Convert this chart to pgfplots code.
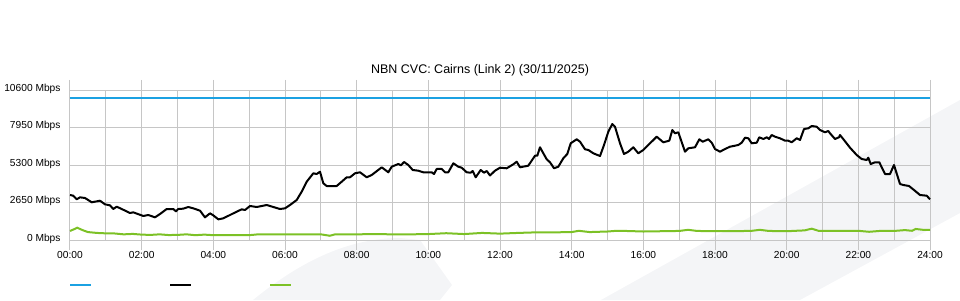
\documentclass[border=0pt]{standalone}
\usepackage{pgfplots}
\pgfplotsset{compat=1.18}
\usepackage{fontspec}
\setmainfont{Liberation Sans}
\definecolor{cblue}{RGB}{27,161,226}
\definecolor{cgreen}{RGB}{124,193,38}
\definecolor{gridc}{RGB}{198,198,198}
\definecolor{wm}{RGB}{244,245,247}

\pgfplotstableread{
h v
0.000 3180
0.092 3130
0.187 2876
0.279 3015
0.419 2968
0.606 2664
0.837 2777
0.977 2521
1.116 2450
1.208 2190
1.303 2355
1.443 2190
1.674 1908
1.767 1955
2.046 1696
2.185 1767
2.372 1602
2.512 1837
2.699 2190
2.883 2190
2.958 2025
3.022 2190
3.162 2214
3.301 2332
3.441 2238
3.628 2073
3.767 1602
3.907 1885
3.999 1743
4.139 1460
4.278 1531
4.465 1767
4.652 2002
4.792 2167
4.884 2120
5.023 2403
5.210 2332
5.489 2474
5.674 2332
5.860 2190
6.000 2238
6.140 2474
6.327 2827
6.466 3415
6.606 4120
6.790 4713
6.885 4664
6.977 4827
7.069 4007
7.164 3816
7.443 3816
7.582 4120
7.722 4431
7.814 4431
7.953 4713
8.093 4784
8.280 4431
8.420 4594
8.699 5137
8.883 4784
8.978 5180
9.162 5371
9.237 5278
9.321 5512
9.441 5300
9.564 4947
9.720 4897
9.860 4784
10.094 4784
10.158 4664
10.234 5018
10.373 5018
10.465 4784
10.557 4784
10.697 5420
10.837 5180
10.931 5109
11.071 4784
11.182 4756
11.238 4876
11.322 4431
11.461 4947
11.554 4756
11.629 4876
11.721 4560
11.860 4897
12.000 5109
12.187 5067
12.371 5350
12.466 5533
12.558 5138
12.790 5251
12.977 5958
13.041 5958
13.116 6551
13.303 5703
13.395 5491
13.507 5067
13.627 5180
13.767 5774
13.878 6078
13.973 6834
14.140 7116
14.233 6947
14.372 6410
14.465 6360
14.604 6127
14.791 5936
14.903 6714
15.023 7654
15.134 8198
15.209 8007
15.349 6834
15.460 6078
15.581 6240
15.720 6551
15.860 6127
15.999 6360
16.186 6834
16.373 7300
16.557 6904
16.725 7018
16.809 7774
16.884 7540
16.976 7611
17.163 6240
17.255 6480
17.442 6551
17.562 7116
17.657 6947
17.813 7116
17.908 6876
18.000 6431
18.140 6240
18.279 6431
18.419 6593
18.651 6714
18.745 6876
18.837 7230
18.930 7187
19.024 6834
19.164 6876
19.236 7258
19.348 7138
19.443 7258
19.507 7138
19.582 7420
19.674 7300
19.814 7187
19.954 7018
20.046 7018
20.140 6904
20.280 7187
20.372 7067
20.484 7844
20.604 7894
20.699 8056
20.839 8007
20.931 7774
21.070 7611
21.162 7703
21.209 7540
21.349 7138
21.460 7258
21.488 7420
21.600 7067
21.767 6523
21.954 6007
22.094 5724
22.233 5654
22.278 5816
22.345 5371
22.465 5491
22.585 5491
22.744 4664
22.884 4664
22.995 5300
23.163 3957
23.255 3887
23.414 3816
23.553 3533
23.721 3180
23.908 3130
24.000 2876
}\blackdata

\pgfplotstableread{
h v
0.00 640
0.15 800
0.20 870
0.35 700
0.50 560
0.75 500
1.00 470
1.25 460
1.50 400
1.75 430
2.00 380
2.25 360
2.50 400
2.75 350
3.00 360
3.25 400
3.50 340
3.75 380
4.00 340
4.50 340
5.00 340
5.25 400
5.50 400
6.00 400
6.50 400
7.00 400
7.25 300
7.40 400
8.00 400
8.50 420
9.00 400
9.50 400
10.00 420
10.50 480
11.00 420
11.50 500
12.00 450
12.50 500
13.00 540
13.50 540
14.00 560
14.20 650
14.50 560
15.00 600
15.25 650
15.50 640
16.00 600
16.50 620
17.00 640
17.25 720
17.50 640
18.00 620
18.50 630
19.00 640
19.25 720
19.50 640
20.00 620
20.50 680
20.70 800
20.90 640
21.50 640
22.00 650
22.30 580
22.60 640
23.00 640
23.30 700
23.50 650
23.60 780
23.80 720
24.00 720
}\greendata

\pgfplotstableread{
h v
0 10000
24 10000
}\bluedata

\begin{document}
\begin{tikzpicture}[x=1pt,y=1pt]
\useasboundingbox (0,0) rectangle (960,300);
% background watermark
\fill[wm] (601,0) -- (960,200) -- (960,87) -- (800,0) -- cycle;
\fill[wm] (253,0) .. controls (290,30) and (340,62) .. (400,62) -- (420,60) -- (452,15) -- (440,0) -- cycle;

\begin{axis}[
  at={(70pt,60pt)}, anchor=south west,
  scale only axis, width=860pt, height=150pt,
  xmin=0, xmax=24, ymin=0, ymax=10600,
  scaled y ticks=false,
  xtick={0,2,...,24},
  minor xtick={1,3,...,23},
  xticklabels={00:00,02:00,04:00,06:00,08:00,10:00,12:00,14:00,16:00,18:00,20:00,22:00,24:00},
  ytick={0,2650,5300,7950,10600},
  yticklabels={0 Mbps,2650 Mbps,5300 Mbps,7950 Mbps,10600 Mbps},
  grid=both,
  major grid style={draw=gridc, line width=1pt},
  minor grid style={draw=gridc, line width=1pt},
  axis line style={draw=gridc, line width=1pt},
  tick align=outside,
  xtick style={draw=gridc, line width=1pt},
  ytick style={draw=none},
  major tick length=10pt,
  minor tick length=0pt,
  xticklabel style={font=\fontsize{10.2}{12}\selectfont, yshift=2pt},
  yticklabel style={font=\fontsize{10.2}{12}\selectfont, xshift=4pt, yshift=1.5pt},
  clip=false,
]
\addplot[cblue, line width=2pt] table[x=h,y=v] {\bluedata};
\addplot[cgreen, line width=2pt] table[x=h,y=v] {\greendata};
\addplot[black, line width=2pt, line join=round] table[x=h,y=v] {\blackdata};
\end{axis}

\node[font=\fontsize{12.5}{14}\selectfont] at (480,230) {NBN CVC: Cairns (Link 2) (30/11/2025)};
\draw[cblue, line width=2pt] (70,15) -- (91,15);
\draw[black, line width=2pt] (170,15) -- (191,15);
\draw[cgreen, line width=2pt] (270,15) -- (291,15);
\end{tikzpicture}
\end{document}
